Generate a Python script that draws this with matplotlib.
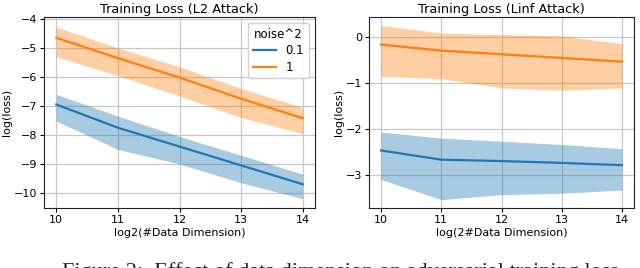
import numpy as np
import matplotlib
matplotlib.use("Agg")
import matplotlib.pyplot as plt

# --- data ---
dims = [10, 11, 12, 13, 14]
noise_labels = ["0.1", "1"]

l2_mean_01 = [-6.95, -7.75, -8.40, -9.05, -9.70]
l2_up_01 = [-6.60, -7.35, -8.05, -8.70, -9.35]
l2_lo_01 = [-7.52, -8.50, -9.00, -9.65, -10.20]
l2_mean_1 = [-4.65, -5.35, -6.02, -6.75, -7.42]
l2_up_1 = [-4.28, -5.00, -5.65, -6.40, -7.05]
l2_lo_1 = [-5.30, -5.95, -6.65, -7.40, -7.95]

linf_mean_01 = [-2.47, -2.67, -2.70, -2.74, -2.79]
linf_up_01 = [-2.07, -2.20, -2.27, -2.34, -2.43]
linf_lo_01 = [-3.10, -3.54, -3.43, -3.40, -3.33]
linf_mean_1 = [-0.17, -0.30, -0.38, -0.46, -0.54]
linf_up_1 = [0.25, 0.08, 0.05, 0.02, -0.15]
linf_lo_1 = [-0.86, -0.91, -1.11, -1.16, -1.11]

BLUE = "#1f77b4"
ORANGE = "#ff7f0e"

fig = plt.figure(figsize=(6.4, 2.68), dpi=100)
ax1 = fig.add_axes([44/640, 1 - 208/268, 271/640, 191/268])
ax2 = fig.add_axes([369/640, 1 - 208/268, 265/640, 191/268])

def panel(ax, m01, u01, l01, m1, u1, l1, title, xlabel):
    ax.fill_between(dims, l01, u01, color=BLUE, alpha=0.38, linewidth=0)
    ax.fill_between(dims, l1, u1, color=ORANGE, alpha=0.38, linewidth=0)
    ax.plot(dims, m01, color=BLUE, lw=1.6, label=noise_labels[0])
    ax.plot(dims, m1, color=ORANGE, lw=1.6, label=noise_labels[1])
    ax.set_title(title, fontsize=9.3, pad=3)
    ax.set_xlabel(xlabel, fontsize=8, labelpad=2)
    ax.set_ylabel("log(loss)", fontsize=8, labelpad=1)
    ax.set_xticks(dims)
    ax.tick_params(labelsize=8, length=3, pad=2)
    ax.grid(True, color="#c8c8c8", lw=0.9)
    ax.set_axisbelow(True)
    for s in ax.spines.values():
        s.set_color("#222222")

panel(ax1, l2_mean_01, l2_up_01, l2_lo_01, l2_mean_1, l2_up_1, l2_lo_1,
      "Training Loss (L2 Attack)", "log2(#Data Dimension)")
ax1.set_ylim(-10.52, -3.93)
ax1.set_yticks([-10, -9, -8, -7, -6, -5, -4])
leg = ax1.legend(title="noise^2", loc="upper right", fontsize=8.5,
                 title_fontsize=8.5, framealpha=0.9, edgecolor="#cccccc",
                 handlelength=2.0, borderpad=0.4, labelspacing=0.3)

panel(ax2, linf_mean_01, linf_up_01, linf_lo_01, linf_mean_1, linf_up_1, linf_lo_1,
      "Training Loss (Linf Attack)", "log(2#Data Dimension)")
ax2.set_ylim(-3.72, 0.43)
ax2.set_yticks([-3, -2, -1, 0])

# figure caption, cut off by the page edge as in the source image
fig.text(62/640, 6/268, "Figure 2:  Effect of data dimension on adversarial training loss",
         ha="left", va="top", fontsize=16, family="Liberation Serif", color="#222222")

fig.savefig("out.png", dpi=100)
